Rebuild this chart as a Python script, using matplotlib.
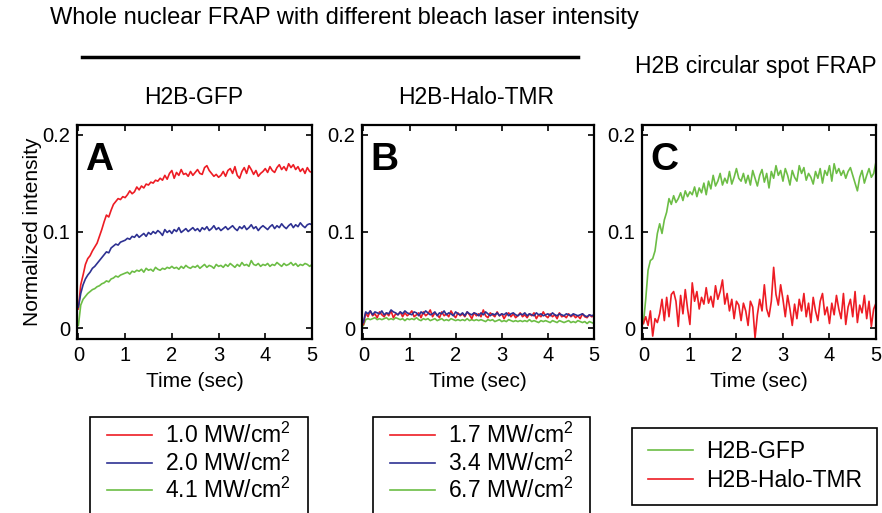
import numpy as np
import matplotlib
matplotlib.use("Agg")
import matplotlib.pyplot as plt
from matplotlib.lines import Line2D
from matplotlib.patches import Rectangle

plt.rcParams['font.family'] = ['Liberation Sans', 'DejaVu Sans']
plt.rcParams['mathtext.fontset'] = 'custom'
plt.rcParams['mathtext.rm'] = 'Liberation Sans'

# time axis, 0 to 5 s in 0.05 s steps
t = np.linspace(0, 5, 101)

# panel A: H2B-GFP, whole nucleus FRAP
a_red = [0.020, 0.045, 0.055, 0.066, 0.072, 0.075, 0.080, 0.084, 0.088, 0.095,
         0.102, 0.110, 0.117, 0.115, 0.122, 0.128, 0.131, 0.134, 0.133, 0.136,
         0.135, 0.138, 0.142, 0.139, 0.141, 0.146, 0.143, 0.147, 0.145, 0.149,
         0.148, 0.151, 0.150, 0.153, 0.152, 0.155, 0.153, 0.158, 0.154, 0.160,
         0.163, 0.155, 0.161, 0.158, 0.164, 0.159, 0.160, 0.157, 0.162, 0.158,
         0.161, 0.164, 0.160, 0.159, 0.166, 0.168, 0.163, 0.160, 0.157, 0.159,
         0.156, 0.158, 0.162, 0.157, 0.163, 0.165, 0.160, 0.167, 0.158, 0.155,
         0.162, 0.166, 0.160, 0.168, 0.164, 0.159, 0.163, 0.157, 0.160, 0.162,
         0.165, 0.161, 0.167, 0.163, 0.161, 0.166, 0.169, 0.164, 0.167, 0.163,
         0.170, 0.166, 0.169, 0.164, 0.167, 0.162, 0.165, 0.160, 0.166, 0.162,
         0.161]
a_blue = [0.022, 0.036, 0.045, 0.051, 0.055, 0.058, 0.062, 0.064, 0.067, 0.070,
          0.073, 0.076, 0.079, 0.078, 0.083, 0.085, 0.087, 0.086, 0.089, 0.090,
          0.091, 0.093, 0.092, 0.095, 0.094, 0.097, 0.094, 0.096, 0.098, 0.095,
          0.099, 0.097, 0.100, 0.098, 0.101, 0.099, 0.096, 0.102, 0.099, 0.101,
          0.098, 0.102, 0.100, 0.104, 0.099, 0.101, 0.103, 0.100, 0.102, 0.104,
          0.101, 0.103, 0.100, 0.104, 0.102, 0.105, 0.101, 0.103, 0.106, 0.102,
          0.104, 0.101, 0.103, 0.105, 0.102, 0.104, 0.106, 0.103, 0.101, 0.105,
          0.103, 0.106, 0.102, 0.104, 0.107, 0.103, 0.105, 0.101, 0.104, 0.106,
          0.104, 0.102, 0.105, 0.107, 0.103, 0.106, 0.104, 0.108, 0.105, 0.103,
          0.106, 0.108, 0.104, 0.107, 0.105, 0.109, 0.106, 0.104, 0.107, 0.108,
          0.107]
a_green = [0.003, 0.024, 0.030, 0.033, 0.036, 0.038, 0.040, 0.041, 0.043, 0.044,
           0.046, 0.047, 0.049, 0.048, 0.051, 0.052, 0.054, 0.053, 0.055, 0.056,
           0.057, 0.058, 0.056, 0.059, 0.058, 0.060, 0.059, 0.061, 0.058, 0.062,
           0.060, 0.061, 0.059, 0.063, 0.061, 0.060, 0.062, 0.061, 0.063, 0.062,
           0.064, 0.062, 0.063, 0.061, 0.064, 0.062, 0.065, 0.063, 0.062, 0.064,
           0.063, 0.065, 0.062, 0.064, 0.066, 0.063, 0.065, 0.064, 0.062, 0.066,
           0.064, 0.065, 0.063, 0.066, 0.064, 0.067, 0.065, 0.063, 0.066, 0.064,
           0.068, 0.065, 0.066, 0.064, 0.070, 0.066, 0.065, 0.067, 0.064, 0.066,
           0.065, 0.067, 0.064, 0.066, 0.065, 0.068, 0.066, 0.064, 0.067, 0.065,
           0.066, 0.068, 0.065, 0.067, 0.064, 0.066, 0.065, 0.067, 0.066, 0.064,
           0.066]

# panel B: H2B-Halo-TMR, whole nucleus FRAP
b_red = [0.004, 0.016, 0.012, 0.018, 0.013, 0.015, 0.011, 0.017, 0.014, 0.012,
         0.016, 0.013, 0.018, 0.011, 0.015, 0.014, 0.017, 0.012, 0.016, 0.013,
         0.015, 0.018, 0.012, 0.014, 0.016, 0.011, 0.017, 0.013, 0.015, 0.019,
         0.012, 0.016, 0.014, 0.011, 0.017, 0.013, 0.015, 0.012, 0.018, 0.014,
         0.011, 0.016, 0.013, 0.015, 0.012, 0.017, 0.014, 0.010, 0.016, 0.013,
         0.015, 0.012, 0.019, 0.013, 0.011, 0.016, 0.014, 0.012, 0.017, 0.013,
         0.015, 0.010, 0.014, 0.016, 0.012, 0.015, 0.011, 0.013, 0.016, 0.012,
         0.014, 0.011, 0.015, 0.013, 0.016, 0.010, 0.014, 0.012, 0.017, 0.013,
         0.011, 0.015, 0.012, 0.014, 0.010, 0.016, 0.012, 0.013, 0.011, 0.015,
         0.012, 0.014, 0.011, 0.013, 0.010, 0.015, 0.012, 0.011, 0.014, 0.012,
         0.013]
b_blue = [0.006, 0.017, 0.015, 0.018, 0.014, 0.017, 0.016, 0.015, 0.018, 0.014,
          0.016, 0.015, 0.019, 0.017, 0.016, 0.014, 0.017, 0.015, 0.018, 0.016,
          0.015, 0.014, 0.017, 0.016, 0.013, 0.017, 0.015, 0.018, 0.016, 0.014,
          0.015, 0.017, 0.013, 0.016, 0.015, 0.018, 0.014, 0.016, 0.015, 0.013,
          0.017, 0.015, 0.014, 0.016, 0.013, 0.017, 0.015, 0.014, 0.016, 0.015,
          0.013, 0.016, 0.014, 0.017, 0.015, 0.013, 0.015, 0.014, 0.016, 0.013,
          0.015, 0.014, 0.016, 0.013, 0.015, 0.016, 0.014, 0.013, 0.015, 0.014,
          0.016, 0.013, 0.015, 0.014, 0.013, 0.016, 0.014, 0.015, 0.013, 0.014,
          0.015, 0.013, 0.016, 0.014, 0.013, 0.015, 0.014, 0.013, 0.015, 0.014,
          0.013, 0.015, 0.014, 0.013, 0.014, 0.015, 0.013, 0.012, 0.014, 0.013,
          0.014]
b_green = [0.003, 0.009, 0.010, 0.009, 0.010, 0.011, 0.009, 0.010, 0.009, 0.010,
           0.011, 0.009, 0.010, 0.009, 0.011, 0.010, 0.009, 0.010, 0.008, 0.010,
           0.009, 0.010, 0.009, 0.011, 0.009, 0.008, 0.010, 0.009, 0.010, 0.008,
           0.009, 0.010, 0.008, 0.009, 0.010, 0.008, 0.009, 0.008, 0.010, 0.009,
           0.008, 0.009, 0.008, 0.009, 0.008, 0.010, 0.008, 0.009, 0.008, 0.009,
           0.008, 0.009, 0.008, 0.007, 0.009, 0.008, 0.009, 0.007, 0.008, 0.009,
           0.007, 0.008, 0.007, 0.009, 0.008, 0.007, 0.008, 0.007, 0.008, 0.007,
           0.008, 0.007, 0.009, 0.007, 0.008, 0.007, 0.006, 0.008, 0.007, 0.008,
           0.007, 0.006, 0.008, 0.007, 0.006, 0.008, 0.007, 0.006, 0.007, 0.008,
           0.006, 0.007, 0.006, 0.008, 0.007, 0.006, 0.007, 0.005, 0.007, 0.006,
           0.005]

# panel C: circular spot FRAP
c_gfp = [0.005, 0.030, 0.060, 0.070, 0.072, 0.080, 0.098, 0.108, 0.098, 0.112,
         0.120, 0.134, 0.128, 0.137, 0.130, 0.134, 0.140, 0.132, 0.142, 0.136,
         0.141, 0.138, 0.146, 0.136, 0.145, 0.140, 0.150, 0.138, 0.152, 0.144,
         0.158, 0.147, 0.152, 0.160, 0.148, 0.155, 0.150, 0.162, 0.149, 0.156,
         0.165, 0.155, 0.152, 0.160, 0.150, 0.158, 0.148, 0.163, 0.155, 0.147,
         0.158, 0.164, 0.151, 0.160, 0.145, 0.162, 0.155, 0.168, 0.158, 0.163,
         0.152, 0.165, 0.158, 0.148, 0.163, 0.156, 0.152, 0.168, 0.160, 0.166,
         0.153, 0.160, 0.156, 0.149, 0.162, 0.155, 0.165, 0.150, 0.163, 0.158,
         0.168, 0.152, 0.170, 0.160, 0.165, 0.158, 0.163, 0.155, 0.162, 0.166,
         0.158, 0.150, 0.142, 0.156, 0.163, 0.150, 0.158, 0.165, 0.156, 0.160,
         0.172]
c_halo = [0.005, 0.012, 0.003, 0.018, -0.008, 0.010, 0.006, 0.015, 0.030, 0.008,
          0.032, 0.012, 0.035, 0.038, 0.028, 0.002, 0.034, 0.015, 0.040, 0.020,
          0.004, 0.047, 0.028, 0.038, 0.020, 0.032, 0.025, 0.042, 0.026, 0.033,
          0.022, 0.044, 0.030, 0.038, 0.050, 0.025, 0.036, 0.018, 0.030, 0.010,
          0.028, 0.024, 0.008, 0.026, 0.018, 0.003, 0.028, 0.022, -0.010, 0.014,
          0.030, 0.018, 0.045, 0.020, 0.012, 0.028, 0.063, 0.035, 0.024, 0.045,
          0.030, 0.012, 0.034, 0.020, 0.003, 0.025, 0.010, 0.030, 0.018, 0.036,
          0.012, 0.026, 0.006, 0.032, 0.018, 0.008, 0.028, 0.036, 0.014, 0.022,
          0.005, 0.026, 0.014, 0.034, 0.020, 0.010, 0.036, 0.004, 0.022, 0.030,
          0.012, 0.038, 0.006, 0.024, 0.016, 0.034, 0.010, 0.028, 0.002, 0.020,
          0.026]

labels_a = ['1.0 MW/cm$^2$', '2.0 MW/cm$^2$', '4.1 MW/cm$^2$']
labels_b = ['1.7 MW/cm$^2$', '3.4 MW/cm$^2$', '6.7 MW/cm$^2$']
labels_c = ['H2B-GFP', 'H2B-Halo-TMR']

RED = '#ed1c24'
BLUE = '#2e3192'
GREEN = '#6cbd45'

W, H = 882, 513
fig = plt.figure(figsize=(W / 100, H / 100), dpi=100)


def px(x0, y0, x1, y1):
    # pixel box -> figure fraction rect
    return [x0 / W, 1 - y1 / H, (x1 - x0) / W, (y1 - y0) / H]


def style(ax, letter):
    ax.set_xlim(-0.03, 5.0)
    ax.set_ylim(-0.011, 0.21)
    ax.set_xticks([0, 1, 2, 3, 4, 5])
    ax.set_yticks([0, 0.1, 0.2])
    ax.set_yticklabels(['0', '0.1', '0.2'])
    ax.tick_params(direction='in', length=4, width=1.2, top=True, right=True,
                   labelsize=14.5, pad=5, colors='black')
    for s in ax.spines.values():
        s.set_linewidth(1.6)
    ax.set_xlabel('Time (sec)', fontsize=15, labelpad=5)
    ax.text(0.035, 0.92, letter, transform=ax.transAxes, fontsize=28,
            fontweight='bold', va='top', ha='left')


axA = fig.add_axes(px(77, 125, 312, 339))
axB = fig.add_axes(px(362, 125, 594, 339))
axC = fig.add_axes(px(642, 125, 876, 339))

la = []
for y, c in zip([a_red, a_blue, a_green], [RED, BLUE, GREEN]):
    la += axA.plot(t, y, color=c, lw=1.2)
lb = []
for y, c in zip([b_red, b_blue, b_green], [RED, BLUE, GREEN]):
    lb += axB.plot(t, y, color=c, lw=1.2)
lc = []
lc += axC.plot(t, c_gfp, color=GREEN, lw=1.2)
lc += axC.plot(t, c_halo, color=RED, lw=1.2)
lb[2].set_zorder(1.5)

style(axA, 'A')
style(axB, 'B')
style(axC, 'C')
axA.set_ylabel('Normalized intensity', fontsize=15, labelpad=0)

# legends: text block without frame, frame drawn as a separate box
leg_kw = dict(loc='upper left', frameon=False, fontsize=16.5, handlelength=1.96,
              handletextpad=0.57, borderaxespad=0, borderpad=0)
for handles, labels, anchor, spacing, frame in [
        (la, labels_a, (107, 423), 0.10, (90, 417, 308, 530)),
        (lb, labels_b, (390, 423), 0.10, (373, 417, 590, 530)),
        (lc, labels_c, (648, 440), 0.27, (632, 428, 877, 505))]:
    fig.legend(handles, labels, bbox_to_anchor=(anchor[0] / W, 1 - anchor[1] / H),
               labelspacing=spacing, **leg_kw)
    r = px(*frame)
    fig.add_artist(Rectangle((r[0], r[1]), r[2], r[3], transform=fig.transFigure,
                             fill=False, edgecolor='black', lw=1.2))

# header texts
fs_head = 17
fig.text(50 / W, 1 - 18 / H, 'Whole nuclear FRAP with different bleach laser intensity',
         fontsize=fs_head, ha='left', va='center')
fig.add_artist(Line2D([82 / W, 578 / W], [1 - 57 / H, 1 - 57 / H], color='black', lw=2.5))
fig.text(635 / W, 1 - 67 / H, 'H2B circular spot FRAP', fontsize=16.5,
         ha='left', va='center')
fig.text(194 / W, 1 - 97 / H, 'H2B-GFP', fontsize=16.5, ha='center', va='center')
fig.text(476 / W, 1 - 97 / H, 'H2B-Halo-TMR', fontsize=16.5, ha='center', va='center')

fig.savefig('out.png', dpi=100)
